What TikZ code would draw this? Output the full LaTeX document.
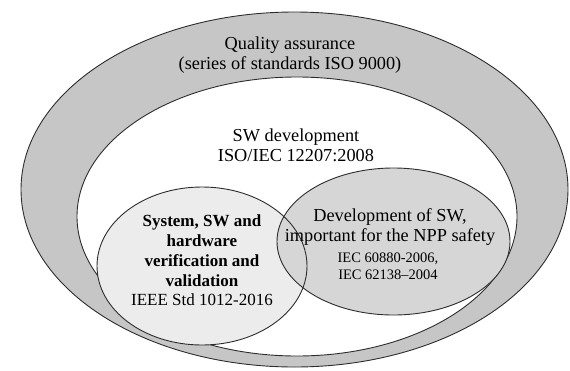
\documentclass[tikz,border=0pt]{standalone}
\usepackage{fontspec}
\setmainfont{Liberation Serif}
\definecolor{outerfill}{RGB}{198,198,198}
\definecolor{leftfill}{RGB}{236,236,236}
\definecolor{rightfill}{RGB}{214,214,214}
\definecolor{edge}{RGB}{45,45,45}
\tikzset{
  edgeline/.style={draw=edge, line width=0.9pt},
  bigtext/.style={align=center, inner sep=0pt, font=\fontsize{18.3}{20}\selectfont},
  midtext/.style={align=center, inner sep=0pt, font=\fontsize{17}{19.7}\selectfont},
  smalltext/.style={align=center, inner sep=0pt, font=\fontsize{14.5}{17}\selectfont}
}
\begin{document}
\begin{tikzpicture}[x=1pt,y=-1pt]
\useasboundingbox (0,0) rectangle (570,370);
% outer ellipse
\fill[outerfill] (294.5,189.5) ellipse [x radius=273.5, y radius=177.5];
\draw[edgeline] (294.5,189.5) ellipse [x radius=273.5, y radius=177.5];
% inner white ellipse
\fill[white] (297,216.5) ellipse [x radius=220, y radius=139.5];
\draw[edgeline] (297,216.5) ellipse [x radius=220, y radius=139.5];
% two circles
\fill[leftfill] (202,266) ellipse [x radius=105, y radius=79];
\fill[rightfill] (393.5,241.5) ellipse [x radius=116.5, y radius=73.5];
\draw[edgeline] (202,266) ellipse [x radius=105, y radius=79];
\draw[edgeline] (393.5,241.5) ellipse [x radius=116.5, y radius=73.5];
% texts
\node[bigtext] (qa) at (290,55) {Quality assurance\\(series of standards ISO 9000)};
\node[bigtext] (swdev) at (296,145) {SW development\\ISO/IEC 12207:2008};
\node[midtext] (vv) at (202,260.5) {\textbf{System, SW and}\\\textbf{hardware}\\\textbf{verification and}\\\textbf{validation}\\IEEE Std 1012-2016};
\node[bigtext] (npp) at (390,227) {Development of SW,\\important for the NPP safety};
\node[smalltext] (iec) at (388,266.5) {IEC 60880-2006,\\IEC 62138--2004};
\end{tikzpicture}
\end{document}
